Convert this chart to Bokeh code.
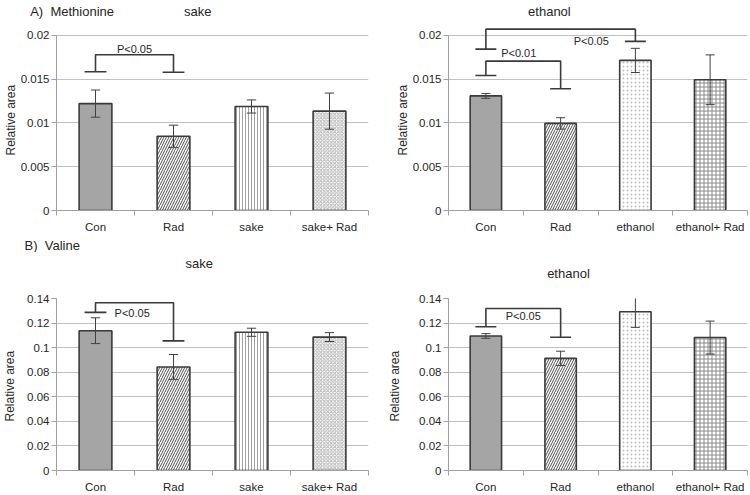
from bokeh.plotting import figure
from bokeh.models import (Range1d, FixedTicker, NumeralTickFormatter, LinearAxis,
                          Title, ColumnDataSource)
from bokeh.layouts import column, row
from bokeh.core.properties import value
from bokeh.embed import file_html
from bokeh.resources import INLINE

# ---------------- data ----------------
cats_sake = ["Con", "Rad", "sake", "sake+ Rad"]
cats_eth = ["Con", "Rad", "ethanol", "ethanol+ Rad"]

met_sake = [0.0122, 0.00847, 0.01187, 0.01134]
met_sake_err = [0.00155, 0.00127, 0.00075, 0.00206]
met_eth = [0.01308, 0.00994, 0.01713, 0.01492]
met_eth_err = [0.00028, 0.00065, 0.00138, 0.00284]

val_sake = [0.1138, 0.0843, 0.1125, 0.1086]
val_sake_err = [0.0105, 0.0101, 0.0033, 0.0036]
val_eth = [0.1095, 0.0913, 0.1292, 0.1082]
val_eth_err = [0.0019, 0.0058, 0.0127, 0.0134]

met_ticks = [0, 0.005, 0.01, 0.015, 0.02]
val_ticks = [0, 0.02, 0.04, 0.06, 0.08, 0.1, 0.12, 0.14]

# significance brackets: (left cat, right cat, left foot y, top y, right foot y, label, label x, label y)
br_met_sake = [(1, 2, 0.01584, 0.01777, 0.01577, "P<0.05", 1.5, 0.01845)]
br_met_eth = [(1, 2, 0.0154, 0.01705, 0.01389, "P<0.01", 1.44, 0.0180),
              (1, 3, 0.01842, 0.0207, 0.0193, "P<0.05", 2.41, 0.01937)]
br_val_sake = [(1, 2, 0.1287, 0.1366, 0.1055, "P<0.05", 1.47, 0.1284)]
br_val_eth = [(1, 2, 0.117, 0.1319, 0.1085, "P<0.05", 1.5, 0.1258)]

FONT = "Liberation Sans"
TXT = "#262626"
AXC = "#a0a0a0"
NB = "\u00a0"

styles_sake = [("#a5a5a5", " ", "#a5a5a5", 4), ("white", "/", "#505050", 5),
               ("white", "|", "#a0a0a0", 3), ("white", "x", "#b4b4b4", 3.5)]
styles_eth = [("#a5a5a5", " ", "#a5a5a5", 4), ("white", "/", "#505050", 5),
              ("white", ".", "#bdbdbd", 4), ("white", "+", "#8a8a8a", 4)]


def panel(cats, vals, errs, styles, ticks, ytop, brackets, w, h, bl, br, bt, bb, fmt, ylab_standoff):
    p = figure(width=w, height=h, x_range=Range1d(0.5, 4.5), y_range=Range1d(0, ytop),
               output_backend="svg", toolbar_location=None, tools="",
               min_border_left=bl, min_border_right=br, min_border_top=bt, min_border_bottom=bb)
    p.outline_line_color = None
    p.background_fill_color = "white"
    p.border_fill_color = "white"
    xs = list(range(1, len(cats) + 1))
    src = ColumnDataSource(dict(
        x=xs, top=vals,
        fill=[s[0] for s in styles], hatch=[s[1] for s in styles],
        hcol=[s[2] for s in styles], hscale=[s[3] for s in styles]))
    p.vbar(x="x", top="top", width=0.42, source=src, fill_color="fill",
           hatch_pattern="hatch", hatch_color="hcol", hatch_scale="hscale",
           hatch_weight=1, line_color="#3a3a3a", line_width=1.6)
    lo = [v - e for v, e in zip(vals, errs)]
    hi = [v + e for v, e in zip(vals, errs)]
    p.segment(x0=xs, y0=lo, x1=xs, y1=hi, line_color="#404040", line_width=1)
    cw = 0.06
    p.segment(x0=[x - cw for x in xs], y0=hi, x1=[x + cw for x in xs], y1=hi,
              line_color="#404040", line_width=1)
    p.segment(x0=[x - cw for x in xs], y0=lo, x1=[x + cw for x in xs], y1=lo,
              line_color="#404040", line_width=1)
    hw = 0.14
    for (a, b, yl, yt, yr, txt, tx, ty) in brackets:
        p.multi_line(xs=[[a - hw, a + hw], [a, a, b, b], [b - hw, b + hw]],
                     ys=[[yl, yl], [yl, yt, yt, yr], [yr, yr]],
                     line_color="#3a3a3a", line_width=1.6)
        p.text(x=[tx], y=[ty], text=[txt], text_font=value(FONT),
               text_font_size=value("11px"), text_color=TXT,
               text_align="center", text_baseline="middle")
    # x axis
    xa = p.xaxis[0]
    xa.ticker = FixedTicker(ticks=xs, minor_ticks=[0.5, 1.5, 2.5, 3.5, 4.5])
    xa.major_label_overrides = {i: c for i, c in zip(xs, cats)}
    xa.major_tick_out = 0
    xa.major_tick_in = 0
    xa.minor_tick_out = 5
    xa.minor_tick_in = 0
    xa.minor_tick_line_color = AXC
    xa.axis_line_color = AXC
    xa.major_label_text_font = FONT
    xa.major_label_text_font_size = "11.5px"
    xa.major_label_text_color = TXT
    xa.major_label_standoff = 5
    # y axis
    ya = p.yaxis[0]
    ya.ticker = FixedTicker(ticks=ticks)
    ya.formatter = NumeralTickFormatter(format=fmt)
    ya.bounds = (0, ticks[-1])
    ya.major_tick_out = 5
    ya.major_tick_in = 0
    ya.minor_tick_out = 0
    ya.minor_tick_in = 0
    ya.major_tick_line_color = AXC
    ya.axis_line_color = AXC
    ya.major_label_text_font = FONT
    ya.major_label_text_font_size = "11.5px"
    ya.major_label_text_color = TXT
    ya.major_label_standoff = 2
    ya.axis_label = "Relative  area"
    ya.axis_label_text_font = FONT
    ya.axis_label_text_font_size = "12px"
    ya.axis_label_text_font_style = "normal"
    ya.axis_label_text_color = TXT
    ya.axis_label_standoff = ylab_standoff
    p.ygrid.grid_line_color = "#c0c0c0"
    p.xgrid.grid_line_color = None
    return p


def heading_axis(p, positions, texts, standoff):
    ax = LinearAxis(ticker=FixedTicker(ticks=positions),
                    major_label_overrides={x: t for x, t in zip(positions, texts)})
    ax.axis_line_color = None
    ax.major_tick_line_color = None
    ax.minor_tick_line_color = None
    ax.major_tick_out = 0
    ax.major_tick_in = 0
    ax.minor_tick_out = 0
    ax.minor_tick_in = 0
    ax.major_label_standoff = standoff
    ax.major_label_text_font = FONT
    ax.major_label_text_font_size = "13px"
    ax.major_label_text_color = TXT
    p.add_layout(ax, "above")


pA1 = panel(cats_sake, met_sake, met_sake_err, styles_sake, met_ticks, 0.021,
            br_met_sake, 385, 252, 53, 17, 24, 41, "0.[000]", 0)
pA2 = panel(cats_eth, met_eth, met_eth_err, styles_eth, met_ticks, 0.021,
            br_met_eth, 364, 252, 63, 2, 24, 41, "0.[000]", 0)
pB1 = panel(cats_sake, val_sake, val_sake_err, styles_sake, val_ticks, 0.14,
            br_val_sake, 385, 243, 53, 17, 43, 22, "0.[00]", 7)
pB2 = panel(cats_eth, val_eth, val_eth_err, styles_eth, val_ticks, 0.14,
            br_val_eth, 364, 243, 63, 2, 43, 22, "0.[00]", 14)

heading_axis(pA1, [0.7, 2.31], ["A)" + NB + NB + "Methionine", "sake"], 8)
heading_axis(pA2, [1.85], ["ethanol"], 8)
heading_axis(pB1, [2.33], ["sake"], 28)
heading_axis(pB2, [2.105], ["ethanol"], 18)

# panel B heading sits in the strip under panel A
pA1.add_layout(Title(text="B)" + NB + NB + "Valine", align="left", offset=-32, standoff=0,
                     text_font=FONT, text_font_size="13px", text_font_style="normal",
                     text_color=TXT), "below")

layout = column(row(pA1, pA2), row(pB1, pB2))
open("out.html", "w").write(file_html(layout, INLINE))
